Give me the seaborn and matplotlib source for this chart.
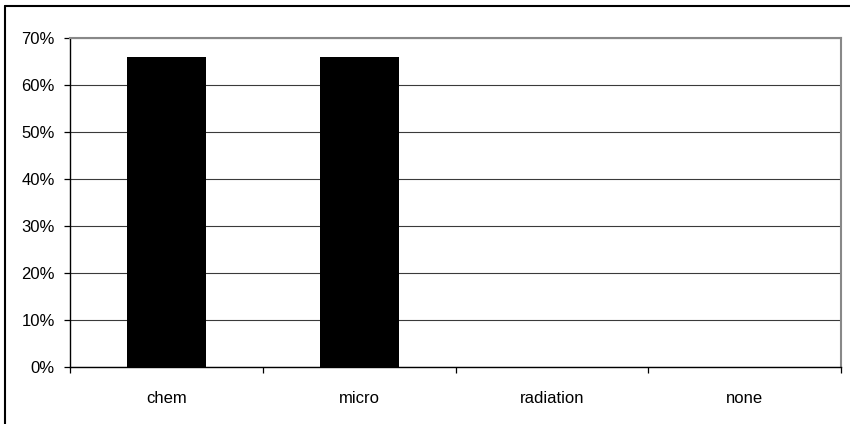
import matplotlib
matplotlib.use("Agg")
import matplotlib.pyplot as plt
import seaborn as sns
import pandas as pd
from matplotlib.lines import Line2D
from matplotlib.ticker import PercentFormatter, FixedLocator

categories = ["chem", "micro", "radiation", "none"]
values = [0.66, 0.66, 0.0, 0.0]
yticks = [0, 0.1, 0.2, 0.3, 0.4, 0.5, 0.6, 0.7]

sns.set_style("white")
plt.rcParams['font.family'] = ['Liberation Sans', 'DejaVu Sans']

df = pd.DataFrame({"category": categories, "value": values})

fig = plt.figure(figsize=(8.5, 4.24), dpi=100)
ax = fig.add_axes([70/850, 1-367/424, (841-70)/850, (367-38.3)/424])

sns.barplot(data=df, x="category", y="value", color="black", width=0.41,
            saturation=1, ax=ax, zorder=3, edgecolor="black", linewidth=0)

ax.set_xlim(-0.5, 3.5)
ax.set_ylim(0, 0.7)
ax.set_yticks(yticks)
ax.yaxis.set_major_formatter(PercentFormatter(1.0, decimals=0))
ax.set_xlabel("")
ax.set_ylabel("")
ax.grid(axis="y", color="#3a3a3a", linewidth=0.8, zorder=0)
ax.set_axisbelow(True)

for side in ["left", "bottom"]:
    ax.spines[side].set_color("black")
    ax.spines[side].set_linewidth(1)
for side in ["top", "right"]:
    ax.spines[side].set_visible(True)
    ax.spines[side].set_color("#888888")
    ax.spines[side].set_linewidth(1.5)

ax.tick_params(axis="y", which="major", direction="out", length=4, width=0.9,
               color="black", left=True, labelsize=12, pad=7, labelcolor="black")
ax.tick_params(axis="x", which="major", length=0, labelsize=12, pad=17, labelcolor="black")
ax.xaxis.set_minor_locator(FixedLocator([-0.5, 0.5, 1.5, 2.5, 3.5]))
ax.tick_params(axis="x", which="minor", direction="out", length=4, width=0.9,
               color="black", bottom=True)

# outer chart border
fig.add_artist(Line2D([5/850, 5/850], [0, 1-6/424], transform=fig.transFigure,
                      color="black", linewidth=1.5))
fig.add_artist(Line2D([5/850, 1], [1-6/424, 1-6/424], transform=fig.transFigure,
                      color="black", linewidth=1.5))

fig.savefig("out.png", dpi=100)
